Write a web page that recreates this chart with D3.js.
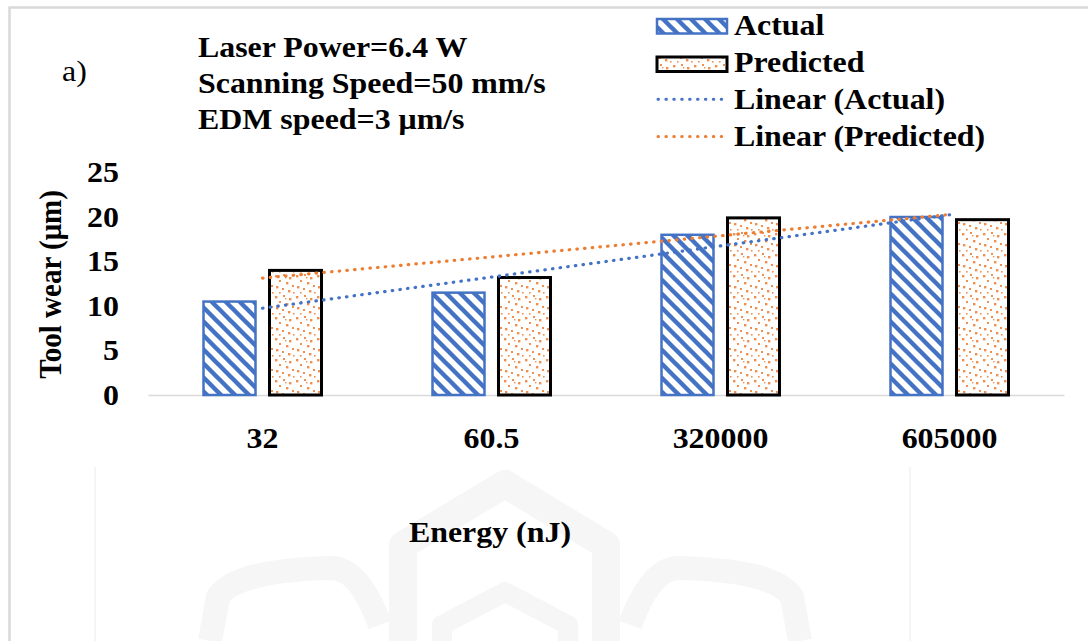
<!DOCTYPE html>
<html>
<head>
<meta charset="utf-8">
<script src="https://cdn.jsdelivr.net/npm/d3@7"></script>
<style>
  html, body { margin: 0; padding: 0; background: #fff; }
  svg { display: block; }
</style>
</head>
<body>
<svg id="chart" width="1088" height="641"></svg>
<script>
// ---- data ----
const categories = ["32", "60.5", "320000", "605000"];
const seriesNames = ["Actual", "Predicted"];
const actual = [10.5, 11.5, 18.0, 20.0];
const predicted = [14.0, 13.2, 19.9, 19.7];
const yTicks = [0, 5, 10, 15, 20, 25];
const conditions = ["Laser Power=6.4 W", "Scanning Speed=50 mm/s", "EDM speed=3 μm/s"];
const legendLabels = ["Actual", "Predicted", "Linear (Actual)", "Linear (Predicted)"];

// ---- styling ----
const BLUE = "#4472C4";
const ORANGE = "#ED7D31";
const FONT = "'Liberation Serif', 'Times New Roman', serif";
const FS = 29;
const SX = 1.1; // horizontal stretch applied to text

const svg = d3.select("#chart");
const defs = svg.append("defs");

// diagonal hatch for the Actual bars
const hatch = defs.append("pattern")
  .attr("id", "hatchBlue").attr("patternUnits", "userSpaceOnUse")
  .attr("width", 14).attr("height", 14);
hatch.append("rect").attr("width", 14).attr("height", 14).attr("fill", "#fff");
hatch.append("path")
  .attr("d", "M-7,-7 L21,21 M-7,7 L7,21 M7,-7 L21,7")
  .attr("stroke", BLUE).attr("stroke-width", 4.4);

// speckled fill for the Predicted bars
const dotsTile = [[1,2,2.4],[9,1,2],[15,4,2.4],[5,7,2],[12,9,2.4],[18,12,2],[2,13,2.4],[8,15,2],[14,17,2.4],[5,19,1.6],[19,19,1.6],[11,4,1.4]];
const speck = defs.append("pattern")
  .attr("id", "speckOrange").attr("patternUnits", "userSpaceOnUse")
  .attr("width", 21).attr("height", 21);
speck.append("rect").attr("width", 21).attr("height", 21).attr("fill", "#fff");
speck.selectAll("rect.d").data(dotsTile).join("rect").attr("class", "d")
  .attr("x", d => d[0]).attr("y", d => d[1])
  .attr("width", d => d[2]).attr("height", d => d[2])
  .attr("fill", ORANGE).attr("opacity", 0.85);

const fills = { Actual: "url(#hatchBlue)", Predicted: "url(#speckOrange)" };
const strokes = { Actual: BLUE, Predicted: "#000" };
const strokeW = { Actual: 2.5, Predicted: 3 };

// ---- faint emblem in the background ----
const emblem = svg.append("g").attr("fill", "none").attr("stroke", "#f6f6f6")
  .attr("stroke-linejoin", "round");
emblem.append("path").attr("d", "M403,641 V545 L505,484 L606,545 V641").attr("stroke-width", 28);
emblem.append("path").attr("d", "M442,641 V625 L505,592 L568,625 V641").attr("stroke-width", 20);
emblem.append("path").attr("d", "M210,641 L218,597 Q235,570 333,568 Q360,570 380,625").attr("stroke-width", 24);
emblem.append("path").attr("d", "M800,641 L792,597 Q775,570 677,568 Q650,570 630,625").attr("stroke-width", 24);
svg.append("g").attr("stroke", "#f2f2f2").attr("stroke-width", 1.5)
  .selectAll("line").data([95, 910]).join("line")
  .attr("x1", d => d).attr("x2", d => d).attr("y1", 467).attr("y2", 641);

// ---- frame ----
svg.append("path").attr("d", "M1090,7.5 H9.5 V645")
  .attr("fill", "none").attr("stroke", "#d9d9d9").attr("stroke-width", 2.5);

// ---- scales ----
const x = d3.scaleBand().domain(categories).range([148, 1064]).padding(0);
const xs = d3.scaleBand().domain(seriesNames).range([0, x.bandwidth()])
  .paddingInner(0.212).paddingOuter(0.841);
const y = d3.scaleLinear().domain([0, 25]).range([395, 172.5]);

// ---- axes ----
const yAxis = svg.append("g").attr("transform", "translate(119,0)")
  .call(d3.axisLeft(y).tickValues(yTicks).tickSize(0).tickPadding(0));
yAxis.select(".domain").remove();
yAxis.selectAll("text")
  .attr("font-family", FONT).attr("font-size", FS).attr("font-weight", "bold")
  .attr("fill", "#000").attr("transform", `scale(${SX},1)`);

const xAxis = svg.append("g").attr("transform", "translate(0,395)")
  .call(d3.axisBottom(x).tickSize(0).tickSizeOuter(0).tickPadding(32));
xAxis.select(".domain").attr("stroke", "#d9d9d9").attr("stroke-width", 1.5);
xAxis.selectAll("text")
  .attr("font-family", FONT).attr("font-size", FS).attr("font-weight", "bold")
  .attr("fill", "#000").attr("transform", `scale(${SX},1)`);

// ---- bars ----
const rows = categories.map((c, i) => ({ cat: c, values: { Actual: actual[i], Predicted: predicted[i] } }));
const groups = svg.append("g").selectAll("g").data(rows).join("g")
  .attr("transform", d => `translate(${x(d.cat)},0)`);
groups.selectAll("rect")
  .data(d => seriesNames.map(s => ({ s, v: d.values[s] })))
  .join("rect")
  .attr("x", d => xs(d.s)).attr("width", xs.bandwidth())
  .attr("y", d => y(d.v)).attr("height", d => y(0) - y(d.v))
  .attr("fill", d => fills[d.s])
  .attr("stroke", d => strokes[d.s]).attr("stroke-width", d => strokeW[d.s]);

// ---- linear trendlines (least squares over category index) ----
function fit(vals) {
  const xs_ = vals.map((_, i) => i + 1);
  const mx = d3.mean(xs_), my = d3.mean(vals);
  const b = d3.sum(xs_, (xi, i) => (xi - mx) * (vals[i] - my)) / d3.sum(xs_, xi => (xi - mx) ** 2);
  const a = my - b * mx;
  return xs_.map(xi => a + b * xi);
}
const center = c => x(c) + x.bandwidth() / 2;
const trendLine = d3.line().x(d => center(d.c)).y(d => y(d.v));
[[actual, BLUE], [predicted, ORANGE]].forEach(([vals, col]) => {
  const f = fit(vals);
  const pts = [{ c: categories[0], v: f[0] }, { c: categories[categories.length - 1], v: f[f.length - 1] }];
  svg.append("path").attr("d", trendLine(pts))
    .attr("fill", "none").attr("stroke", col).attr("stroke-width", 3.2)
    .attr("stroke-linecap", "round").attr("stroke-dasharray", "0.5 7.2");
});

// ---- text helper ----
function label(g, px, py, str, opts = {}) {
  return g.append("text")
    .attr("transform", `translate(${px},${py}) scale(${SX},1)` + (opts.rotate ? ` rotate(${opts.rotate})` : ""))
    .attr("font-family", FONT).attr("font-size", opts.size || FS)
    .attr("font-weight", opts.weight || "bold")
    .attr("text-anchor", opts.anchor || "start")
    .attr("fill", "#000").text(str);
}

// axis titles
label(svg, 61, 284.5, "Tool wear (μm)", { anchor: "middle", rotate: -90 });
label(svg, 490, 542, "Energy (nJ)", { anchor: "middle" });

// panel tag and process conditions
label(svg, 62, 81, "a)", { weight: "normal" });
conditions.forEach((t, i) => label(svg, 198, 57 + i * 36, t));

// ---- legend ----
const lg = svg.append("g");
const swY = [19, 57];
seriesNames.forEach((s, i) => {
  lg.append("rect").attr("x", 657).attr("y", swY[i]).attr("width", 70).attr("height", 14.5)
    .attr("fill", fills[s]).attr("stroke", strokes[s]).attr("stroke-width", strokeW[s]);
});
[[99.3, BLUE], [136.5, ORANGE]].forEach(([ly, col]) => {
  lg.append("line").attr("x1", 658).attr("x2", 722).attr("y1", ly).attr("y2", ly)
    .attr("stroke", col).attr("stroke-width", 3).attr("stroke-linecap", "round")
    .attr("stroke-dasharray", "0.5 7.4");
});
legendLabels.forEach((t, i) => label(lg, 734, 35 + i * 37, t));
</script>
</body>
</html>
